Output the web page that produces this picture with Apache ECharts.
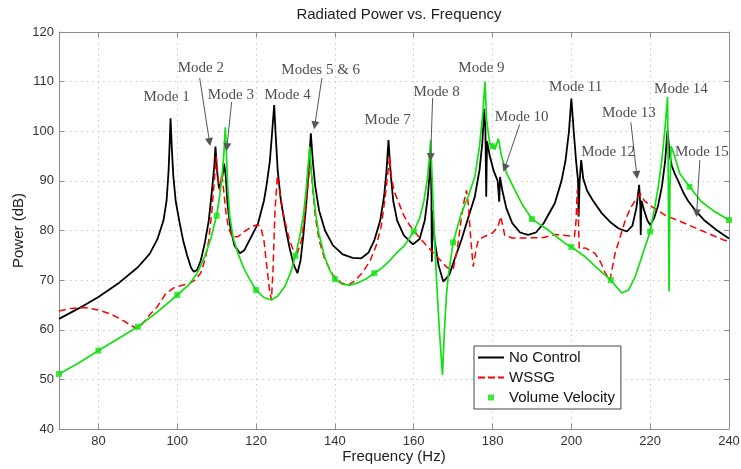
<!DOCTYPE html>
<html><head><meta charset="utf-8">
<script src="https://cdn.jsdelivr.net/npm/echarts@6/dist/echarts.min.js"></script>
<style>html,body{margin:0;padding:0;background:#fff}#c{width:741px;height:469px}</style>
</head><body><div id="c"></div>
<script>
const xTicks = [80,100,120,140,160,180,200,220,240];
const noControl = [[70,62.2],[75,64.3],[80,66.6],[85,69.3],[90,72.6],[93,75.3],[95,78.3],[96.5,82],[97.3,86],[97.8,92],[98.1,98],[98.3,102.6],[98.6,97],[99,91],[99.6,86],[100.5,82],[101.5,78],[102.5,75],[103.5,72.5],[104.2,71.7],[105,72],[106,74],[107,77.5],[108,82],[108.8,88],[109.4,93],[109.7,96.9],[110.1,92],[110.6,88.5],[111.3,90],[111.9,93.5],[112.3,91],[112.8,85],[113.5,80.5],[114.5,77],[115.9,75.4],[117,76],[118.5,78.3],[120.5,81.4],[122,86],[122.6,88.8],[123.5,94],[124,99],[124.6,105.3],[125,99],[125.5,92],[126.3,86],[127.5,80.5],[128.5,76.5],[129.6,73],[130.5,71.4],[131.3,74],[132,79],[132.8,86],[133.4,93],[133.9,99.6],[134.4,94],[135,89],[136,84],[137.5,80],[139.5,77],[142,75.2],[144.5,74.5],[146.7,74.4],[148.5,75.5],[150,78],[151.5,82],[152.5,87],[153.1,92],[153.6,98.2],[154.1,92],[154.8,86],[155.8,82],[157.5,79],[159.8,77.2],[161.5,78.3],[162.8,82],[163.6,87],[164.1,92],[164.3,95],[164.5,87],[164.6,73.7],[164.8,84],[165.3,78],[166.3,73],[167.5,69.7],[169,71],[170.5,74.5],[172.1,78.1],[174,83],[175.5,86.8],[176.7,92.2],[177.4,97.5],[177.9,104.5],[178.2,100],[178.4,86.8],[178.6,98],[179.3,95],[180.3,92],[181.3,90],[181.7,85.8],[181.9,90.8],[182.5,88],[183.5,84.5],[185,81.5],[187,79.6],[189,79.1],[191,79.6],[193,81.5],[195.8,85.5],[197.5,90],[198.5,94],[199.4,100],[200,106.6],[200.6,100],[201.2,94],[201.7,90],[201.85,82.8],[202.1,90],[202.5,94.2],[203,90.5],[204,88],[205.5,86],[207.7,83.5],[210,81.6],[212,80.4],[214.1,79.8],[215.5,81],[216.5,84.5],[217.2,89.2],[217.5,85],[217.6,79.1],[217.8,86],[218.5,84],[219.3,82],[220,81.1],[221,82.5],[222,85],[223,89],[223.8,94],[224.4,100.2],[225,95],[225.5,93],[226.2,91.5],[227.1,90],[228.5,87.5],[229.6,86],[231.5,84],[233.8,82],[237,80],[240,78.4]];
const wssg = [[70,63.8],[73,64.3],[76.5,64.5],[80,64],[83,63.2],[86,62],[88,61],[89.6,60.3],[91,61],[93,63],[95,64.7],[97,67.2],[99,68.4],[101,68.9],[103,69.3],[104.5,70],[106,71.5],[107.2,74.5],[108,78],[108.8,84],[109.4,90],[109.9,94.9],[110.3,91],[110.8,88],[111.3,91.5],[111.8,88],[112.3,84],[113,80.5],[114,78.6],[115.5,78.8],[117,79.8],[119,80.8],[120.5,81.2],[121.3,80.3],[122,78],[122.7,73],[123.4,68],[123.9,66],[124.3,72],[124.8,84],[125.4,91],[126,88],[127,83],[128.5,78],[129.5,76],[130.5,75.5],[131.5,78],[132.5,84],[133.3,90],[133.8,94],[134.3,89],[135,83],[136,78],[137.5,74],[139.5,71],[141.5,69.5],[143.4,69],[145,69.8],[147,71.5],[149,74],[150.5,77],[151.8,81],[152.8,87],[153.5,92],[153.9,94.9],[154.3,91],[155,88],[156,86],[157.5,83],[159,81],[161,79],[163,77.2],[165,75.5],[167,73.8],[168.5,72.5],[170,72.2],[171,76],[172,82],[172.8,86],[173.4,88.1],[173.9,85],[174.5,78],[175.1,72.7],[175.8,76],[176.4,78.1],[178,78.8],[180,79.5],[181.4,80.8],[182.1,82.8],[183.1,79],[185,78.5],[189,78.5],[193,78.6],[196,79.2],[200.8,78.8],[201.2,82],[201.5,88.2],[201.8,82],[202,76.3],[203.5,76.5],[206,75.4],[207.5,73.5],[208.6,71.4],[209.8,70],[211.1,75.4],[212.5,79],[213.7,82.1],[215,84.5],[216.2,86.1],[217.5,87.5],[218.5,86],[220.4,84.8],[224,83],[228.9,81.4],[233,80],[238.6,78.1],[240,77.8]];
const volVelLine = [[70,51.1],[75,53.3],[80,55.8],[85,58.2],[90,60.6],[95,63.6],[100,67.0],[103,69.1],[105,71.3],[107,74.8],[108.5,78.3],[110,83.0],[110.7,86.5],[111.3,90.5],[111.8,95],[112.2,100.8],[112.5,95],[112.8,89],[113.3,83],[114.2,78.5],[115.4,75.4],[117,72.2],[118.5,70],[120,68.0],[122,66.5],[123.9,66.0],[125.5,66.8],[127.3,68.7],[128.8,71.6],[130,74.9],[131,78.5],[132,83],[132.7,88],[133.2,93],[133.6,96.9],[134,92],[134.5,88],[135.2,83],[135.9,79.5],[137.4,74.7],[138.7,72],[140,70.2],[141.8,69.2],[143.8,69.0],[146,69.5],[148,70.3],[150,71.4],[152,72.5],[154,74],[155.8,75.6],[157.7,77],[160,79.8],[161.5,82.5],[162.6,86],[163.4,90],[163.9,94],[164.3,98.2],[164.7,90],[165.2,80],[165.8,70],[166.5,60],[167.3,50.9],[167.8,60],[168.3,67],[168.8,71],[170,77.6],[172.1,83.5],[173.8,86.8],[175.5,90.8],[176.7,97],[177.6,104.2],[178.1,110],[178.5,102.2],[179.3,97.5],[180,97],[180.6,96.4],[181.5,98.5],[182.3,94.9],[183.6,91.5],[185.7,88.1],[187.5,85.3],[190,82.3],[194.1,80.1],[198.4,77.4],[200,76.7],[203.5,74.7],[206,72.8],[210,70.0],[212.8,67.4],[214.5,68],[216.2,70.7],[218,75],[220,79.8],[221,84],[222.1,89],[223,94.5],[223.8,101],[224.4,106.9],[224.6,90],[224.8,67.7],[225.0,88],[225.3,97],[226,95.5],[227.5,91.5],[230,88.8],[233,85.8],[236,84],[240,82.1]];
const volVelMarkers = [[70,51.1],[80,55.8],[90,60.6],[100,67.0],[110,83.0],[120,68.0],[130,74.9],[140,70.2],[150,71.4],[160,79.8],[170,77.6],[180,97],[190,82.3],[200,76.7],[210,70.0],[220,79.8],[230,88.8],[240,82.1]];
const annoText = ['Mode 1','Mode 2','Mode 3','Mode 4','Modes 5 & 6','Mode 7','Mode 8','Mode 9','Mode 10','Mode 11','Mode 12','Mode 13','Mode 14','Mode 15'];
const annoFreq = [97.3,106.0,113.6,128.0,136.4,153.4,165.8,177.2,187.4,201.1,209.3,214.6,227.8,233.1];
const annoPower = [106.9,112.7,107.3,107.3,112.3,102.2,107.9,112.7,102.8,108.9,95.8,103.6,108.5,95.8];
const arrowFrom = [[105.7,110.7],[113.8,105.9],[136.7,110.7],[164.8,106.7],[186.9,101.4],[215.1,101.8],[232.6,94.2]];
const arrowTo = [[108.2,97.8],[112.6,96.8],[134.9,101.2],[164.3,94.8],[183.1,92.6],[216.6,91.2],[231.8,83.5]];

const SANS = 'Liberation Sans, Arial, sans-serif';
const SERIF = 'Liberation Serif, Times New Roman, serif';
const frame = '#8c8c8c';
const chart = echarts.init(document.getElementById('c'), null, {renderer:'canvas'});
const xBase = {type:'value', min:70, max:240, gridIndex:0};
const yBase = {type:'value', min:40, max:120, interval:10, gridIndex:0};
chart.setOption({
  animation:false,
  backgroundColor:'#fff',
  title:{text:'Radiated Power vs. Frequency', left:394, top:2, textAlign:'center',
    textStyle:{fontFamily:SANS, fontSize:15, fontWeight:'normal', color:'#222'}},
  grid:{left:59, right:12, top:32, bottom:40, containLabel:false, outerBoundsMode:'none'},
  xAxis:[
    Object.assign({}, xBase, {position:'bottom', name:'Frequency (Hz)', nameLocation:'middle', nameGap:20,
      nameMoveOverlap:false,
      nameTextStyle:{fontFamily:SANS, fontSize:15, color:'#222'},
      axisLine:{show:true, lineStyle:{color:frame, width:1}},
      axisTick:{show:true, inside:true, length:5, customValues:xTicks, lineStyle:{color:frame}},
      axisLabel:{show:true, customValues:xTicks, margin:6, fontFamily:SANS, fontSize:13, color:'#333'},
      splitLine:{show:true, lineStyle:{color:'#c8c8c8', type:[1.5,4], width:1}}}),
    Object.assign({}, xBase, {position:'top',
      axisLine:{show:true, onZero:false, lineStyle:{color:frame, width:1}},
      axisTick:{show:true, inside:true, length:5, customValues:xTicks, lineStyle:{color:frame}},
      axisLabel:{show:false}, splitLine:{show:false}})
  ],
  yAxis:[
    Object.assign({}, yBase, {position:'left', name:'Power (dB)', nameLocation:'middle', nameGap:33,
      nameMoveOverlap:false,
      nameTextStyle:{fontFamily:SANS, fontSize:15, color:'#222'},
      axisLine:{show:true, onZero:false, lineStyle:{color:frame, width:1}},
      axisTick:{show:true, inside:true, length:5, lineStyle:{color:frame}},
      axisLabel:{show:true, margin:5, fontFamily:SANS, fontSize:13, color:'#333'},
      splitLine:{show:true, lineStyle:{color:'#c8c8c8', type:[1.5,4], width:1}}}),
    Object.assign({}, yBase, {position:'right',
      axisLine:{show:true, onZero:false, lineStyle:{color:frame, width:1}},
      axisTick:{show:true, inside:true, length:5, lineStyle:{color:frame}},
      axisLabel:{show:false}, splitLine:{show:false}})
  ],
  legend:{
    orient:'vertical', left:474, top:346, itemWidth:26, itemHeight:14, itemGap:5,
    padding:[4,6,4,4], borderColor:'#444', borderWidth:1, backgroundColor:'#fff',
    textStyle:{fontFamily:SANS, fontSize:15, color:'#111'},
    itemStyle:{borderWidth:0}, selectedMode:false,
    data:[
      {name:'No Control', icon:'path://M0,0L0,0ZM26,14L26,14ZM0,6h26v2h-26z'},
      {name:'WSSG', icon:'path://M0,0L0,0ZM26,14L26,14ZM0,6h7v2h-7zM10,6h7v2h-7zM20,6h6v2h-6z'},
      {name:'Volume Velocity', icon:'path://M0,0L0,0ZM26,14L26,14ZM10,4h6v6h-6z'}
    ]
  },
  series:[
    {name:'No Control', type:'line', data:noControl, showSymbol:false, symbol:'none', color:'#000',
      lineStyle:{color:'#000', width:1.8}, z:2, silent:true},
    {name:'WSSG', type:'line', data:wssg, showSymbol:false, symbol:'none', color:'#ff0000',
      lineStyle:{color:'#ff0000', width:1.5, type:[7,4]}, z:3, silent:true},
    {name:'Volume Velocity line', type:'line', data:volVelLine, showSymbol:false, symbol:'none', color:'#11e011',
      lineStyle:{color:'#11e011', width:1.7}, z:4, silent:true},
    {name:'Volume Velocity', type:'scatter', data:volVelMarkers, symbol:'rect', symbolSize:6, color:'#11e011',
      itemStyle:{color:'#11e011'}, z:5, silent:true},
    {name:'annotations', type:'scatter', symbolSize:0, silent:true, z:6,
      data:annoText.map((t,i)=>({name:t, value:[annoFreq[i], annoPower[i]]})),
      label:{show:true, position:'inside', formatter:'{b}', fontFamily:SERIF, fontSize:15, color:'#222'},
      markLine:{silent:true, symbol:['none','triangle'], symbolSize:8, animation:false, precision:4,
        label:{show:false}, lineStyle:{color:'#555', width:1, type:'solid'},
        data:arrowFrom.map((a,i)=>[{coord:a},{coord:arrowTo[i]}])}}
  ]
});
</script></body></html>
